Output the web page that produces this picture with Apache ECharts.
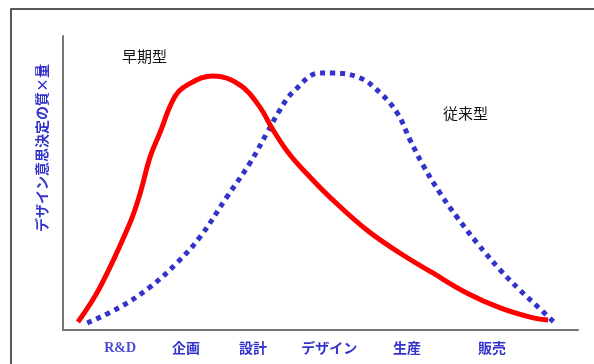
<!DOCTYPE html>
<html><head><meta charset="utf-8">
<script src="https://cdn.jsdelivr.net/npm/echarts@6/dist/echarts.min.js"></script>
<style>html,body{margin:0;padding:0;background:#fff}#c{width:594px;height:364px}</style>
</head><body><div id="c"></div>
<script>
// Stage labels and their positions on the horizontal (0-100) scale
const stages = ['R&D', '企画', '設計', 'デザイン', '生産', '販売'];
const stagePos = [11.1, 23.9, 36.9, 51.7, 66.8, 83.3];
// 早期型 (early) curve: x and y on 0-100 scales
const earlyX = [2.9, 7.2, 13.0, 15.0, 16.9, 18.8, 21.7, 24.1, 29.1, 34.4, 38.2, 40.8, 44.1, 48.5, 51.8, 59.0, 65.4, 71.8, 78.4, 84.9, 91.3, 94.2];
const earlyY = [2.7, 14.6, 36.4, 46.6, 58.8, 67.0, 79.3, 83.3, 86.4, 83.3, 75.9, 68.0, 59.5, 51.0, 45.2, 34.0, 26.2, 19.4, 12.6, 7.5, 4.1, 3.4];
// 従来型 (traditional) curve
const tradX = [4.7, 11.1, 16.9, 22.1, 26.6, 31.8, 36.3, 39.6, 42.1, 44.7, 49.9, 52.4, 57.7, 61.6, 64.9, 67.4, 69.9, 73.2, 76.5, 80.4, 84.9, 88.7, 92.0, 95.5];
const tradY = [2.4, 7.8, 14.6, 22.8, 31.6, 45.2, 56.8, 67.0, 74.8, 81.0, 87.4, 87.4, 85.7, 80.6, 73.8, 64.6, 56.1, 46.6, 38.4, 29.6, 20.4, 13.6, 8.2, 2.4];
const seriesNames = ['早期型', '従来型'];
const yAxisTitle = 'デザイン意思決定の質×量';

const earlyData = earlyX.map((x, i) => [x, earlyY[i]]);
const tradData = tradX.map((x, i) => [x, tradY[i]]);

const chart = echarts.init(document.getElementById('c'));
chart.setOption({
  animation: false,
  backgroundColor: '#fff',
  grid: {left: 63, right: 16, top: 36, bottom: 34},
  xAxis: {
    type: 'value', min: 0, max: 100,
    axisLine: {show: true, lineStyle: {color: '#777', width: 2}},
    axisTick: {show: false},
    splitLine: {show: false},
    axisLabel: {
      customValues: stagePos,
      margin: 11,
      formatter: v => {
        const i = stagePos.indexOf(v);
        if (i === 0) return '{s|' + stages[i] + '}';
        return i >= 0 ? stages[i] : '';
      },
      color: '#3333cc', fontWeight: 'bold', fontSize: 14,
      fontFamily: '"Noto Sans CJK JP", sans-serif',
      rich: {s: {fontFamily: '"Liberation Serif", serif', fontWeight: 'bold', fontSize: 14, color: '#4a4acc'}}
    }
  },
  yAxis: {
    type: 'value', min: 0, max: 100,
    axisLine: {show: true, lineStyle: {color: '#777', width: 2}},
    axisTick: {show: false}, axisLabel: {show: false}, splitLine: {show: false}
  },
  graphic: [
    {type: 'rect', shape: {x: 11, y: 9, width: 700, height: 500}, style: {fill: 'none', stroke: '#222', lineWidth: 1.5}, silent: true},
    {type: 'text', x: 42, y: 148, rotation: Math.PI / 2,
     style: {text: yAxisTitle, fontSize: 14, fontWeight: 'bold', fill: '#3333cc', align: 'center', verticalAlign: 'middle', fontFamily: '"Noto Sans CJK JP", sans-serif'}},
    {type: 'text', left: 122, top: 49, style: {text: seriesNames[0], fontSize: 15, fill: '#111', fontFamily: '"Noto Sans CJK JP", sans-serif'}},
    {type: 'text', left: 443, top: 106, style: {text: seriesNames[1], fontSize: 15, fill: '#111', fontFamily: '"Noto Sans CJK JP", sans-serif'}}
  ],
  series: [
    {name: seriesNames[1], type: 'line', data: tradData, smooth: 0.4, showSymbol: false,
     lineStyle: {color: '#3333cc', width: 5, type: [5, 5], cap: 'butt'}, z: 2},
    {name: seriesNames[0], type: 'line', data: earlyData, smooth: 0.4, showSymbol: false,
     lineStyle: {color: '#ff0000', width: 5}, z: 3}
  ]
});
</script></body></html>
